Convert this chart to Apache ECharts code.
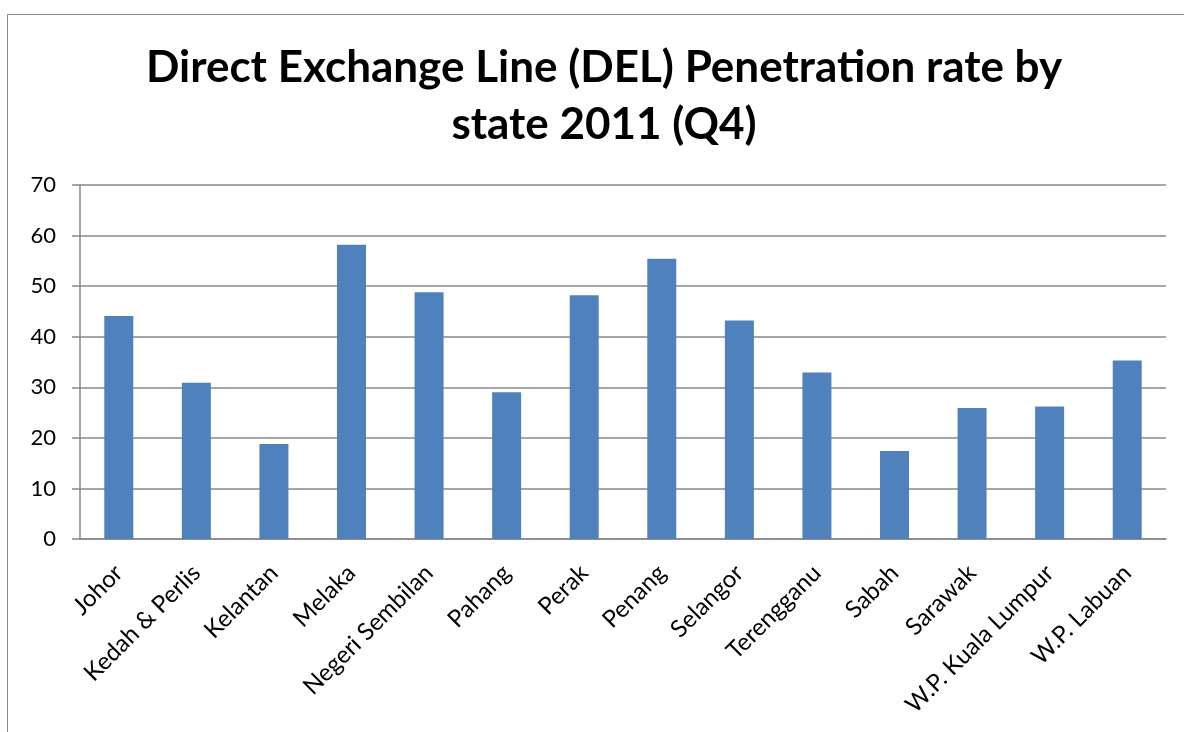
<!DOCTYPE html>
<html>
<head>
<meta charset="utf-8">
<script src="https://cdn.jsdelivr.net/npm/echarts@6/dist/echarts.min.js"></script>
<style>
    html, body { margin: 0; padding: 0; background: #fff; }
    #chart { width: 1184px; height: 732px; }
</style>
</head>
<body>
<div id="chart"></div>
<script>
const states = ['Johor', 'Kedah & Perlis', 'Kelantan', 'Melaka', 'Negeri Sembilan', 'Pahang', 'Perak',
    'Penang', 'Selangor', 'Terengganu', 'Sabah', 'Sarawak', 'W.P. Kuala Lumpur', 'W.P. Labuan']
const penetration = [44.1, 30.9, 18.8, 58.2, 48.8, 29.0, 48.2, 55.4, 43.2, 32.9, 17.4, 25.9, 26.2, 35.3]
const yTicks = { min: 0, max: 70, interval: 10 }

const chart = echarts.init(document.getElementById('chart'))
const font = 'Lato, "Open Sans", sans-serif'

let option = {
    animation: false,
    graphic: [{
        type: 'rect',
        shape: { x: 7.5, y: 14.5, width: 1400, height: 1000 },
        style: { fill: 'none', stroke: '#888', lineWidth: 1 },
        silent: true
    }],
    title: {
        text: 'Direct Exchange Line (DEL) Penetration rate by\nstate 2011 (Q4)',
        left: 599,
        textAlign: 'center',
        top: 34,
        textStyle: {
            fontFamily: font,
            fontWeight: 'bold',
            fontSize: 44,
            lineHeight: 57,
            color: '#000'
        }
    },
    grid: {
        left: 80,
        right: 18,
        top: 185,
        bottom: 193,
        containLabel: false
    },
    xAxis: {
        type: 'category',
        data: states,
        axisLine: { lineStyle: { color: '#888', width: 1.5 } },
        axisTick: { alignWithLabel: false, length: 8, lineStyle: { color: '#888', width: 1.5 } },
        axisLabel: {
            interval: 0,
            rotate: 45,
            margin: 30,
            fontFamily: font,
            fontSize: 24,
            color: '#000'
        }
    },
    yAxis: {
        type: 'value',
        min: yTicks.min,
        max: yTicks.max,
        interval: yTicks.interval,
        axisLine: { show: true, lineStyle: { color: '#888', width: 1.5 } },
        axisTick: { show: true, length: 8, lineStyle: { color: '#888', width: 1.5 } },
        splitLine: { lineStyle: { color: '#888', width: 1.5 } },
        axisLabel: {
            margin: 24,
            fontFamily: font,
            fontSize: 22,
            color: '#000'
        }
    },
    series: [{
        type: 'bar',
        data: penetration,
        barWidth: 29,
        itemStyle: { color: '#4f81bd' }
    }]
}

chart.setOption(option)
</script>
</body>
</html>
